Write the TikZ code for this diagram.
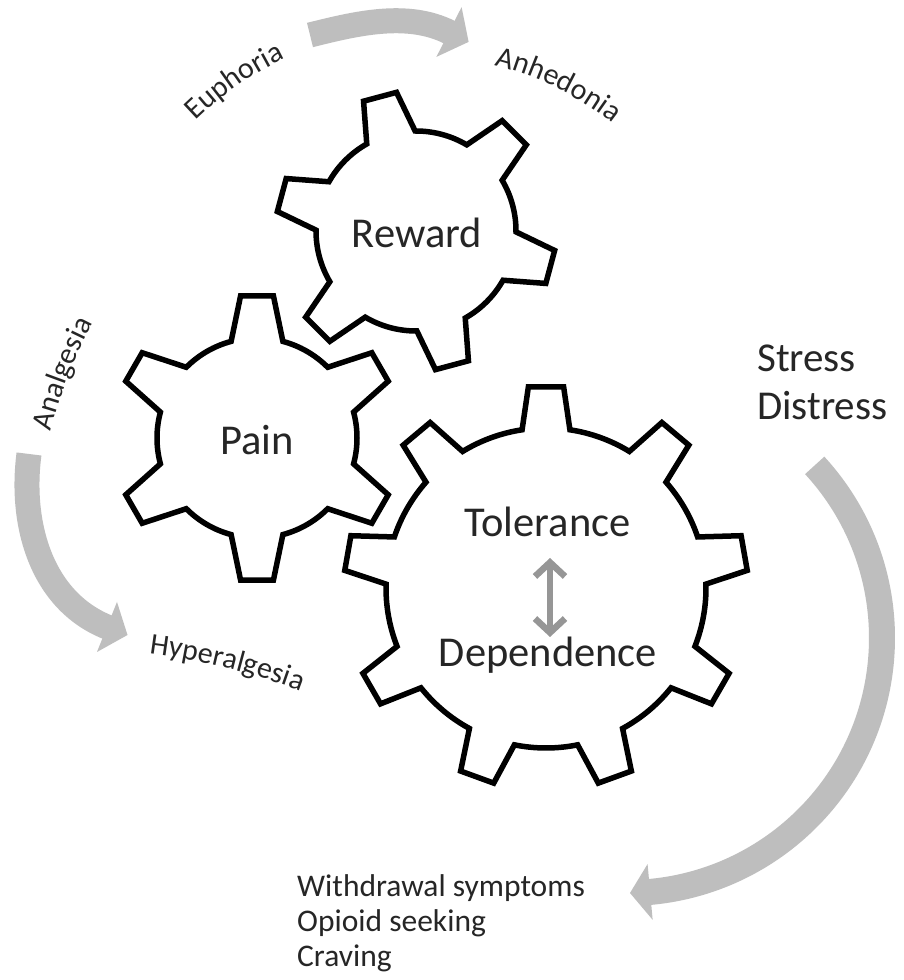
\documentclass[tikz,border=0pt]{standalone}
\usepackage{fontspec}
\setmainfont{Carlito}
\usetikzlibrary{arrows.meta,decorations.text,calc}
\definecolor{arrowgray}{RGB}{190,190,190}
\definecolor{dblgray}{RGB}{150,150,150}
\definecolor{txt}{RGB}{38,38,38}
\newcommand{\gearfont}{\fontsize{42.5}{50}\selectfont}
\newcommand{\sidefont}{\fontsize{41}{48}\selectfont}
\newcommand{\listfont}{\fontsize{31.5}{36}\selectfont}
\newcommand{\lblfont}{\fontsize{30}{36}\selectfont}
% #1 cx, #2 cy, #3 teeth, #4 first tooth angle, #5 root radius, #6 tip radius,
% #7 root half-angle, #8 tip half-angle
\newcommand{\drawgear}[8]{%
  \pgfmathsetmacro\gstep{360/#3}%
  \pgfmathsetmacro\gstart{#4-#7}%
  \draw[gearline] ([shift={(#1,#2)}]\gstart:#5pt)
    \foreach \k [evaluate=\k as \ga using #4+\k*\gstep-\gstep,
                 evaluate=\k as \gb using #4+\k*\gstep-#7] in {1,...,#3}{
      -- ([shift={(#1,#2)}]\ga-#8:#6pt)
      -- ([shift={(#1,#2)}]\ga+#8:#6pt)
      -- ([shift={(#1,#2)}]\ga+#7:#5pt)
      arc[start angle=\ga+#7, end angle=\gb, radius=#5pt]
    } -- cycle;%
}
\begin{document}
\begin{tikzpicture}[x=1pt,y=1pt,
  gearline/.style={draw=black, line width=5.5pt, fill=white, line join=miter},
  geartext/.style={font=\gearfont, text=txt, inner sep=0pt, anchor=base},
  sidetext/.style={font=\sidefont, text=txt, inner sep=0pt, anchor=base west},
  listtext/.style={font=\listfont, text=txt, inner sep=0pt, anchor=base west},
  band/.style={draw=arrowgray, line width=25pt, line cap=butt},
  bandhead/.style={fill=arrowgray},
  dblarrow/.style={draw=dblgray, line width=6.5pt, line join=miter,
    {Straight Barb[length=14pt,width=30pt]}-{Straight Barb[length=14pt,width=30pt]}},
  curvelabel/.style={decorate, decoration={text along path, text align=center, text color=txt}}
]
\useasboundingbox (0,0) rectangle (904,980);
\fill[white] (0,0) rectangle (904,980);

% gears
\drawgear{546}{392}{9}{90}{160}{202}{8.6}{5.0}
\drawgear{257}{542}{6}{90}{100}{143}{15}{6.6}
\drawgear{416}{749}{6}{45}{100}{140}{14.5}{7.0}

% gear texts
\node[geartext] (reward) at (417,732) {Reward};
\node[geartext] (pain) at (257,525) {Pain};
\node[geartext] (tol) at (547.5,443) {Tolerance};
\node[geartext] (dep) at (548,313) {Dependence};
\coordinate (dtop) at (550,422);
\coordinate (dbot) at (550,343);
\draw[dblarrow] (dtop) -- (dbot);

% side texts
\node[sidetext] (stress) at (757,608) {Stress};
\node[sidetext] (distress) at (757,560) {Distress};
\node[listtext] (withdrawal) at (297,83) {Withdrawal symptoms};
\node[listtext] (seeking) at (297,48) {Opioid seeking};
\node[listtext] (craving) at (297,13) {Craving};

% curved labels
\path[curvelabel, decoration={text={|\lblfont|Euphoria}}]
  ([shift={(432.4,616.3)}]150:339pt) arc[start angle=150, end angle=100, radius=339pt];
\path[curvelabel, decoration={text={|\lblfont|Anhedonia}}]
  ([shift={(415,605)}]88.7:320pt) arc[start angle=88.7, end angle=38.7, radius=320pt];
\path[curvelabel, decoration={text={|\lblfont|Hyperalgesia}}]
  ([shift={(64.6,-335)}]88:667pt) arc[start angle=88, end angle=64, radius=667pt];
\path[curvelabel, decoration={text={|\lblfont|Analgesia}}]
  ([shift={(535.5,425)}]173:500pt) arc[start angle=173, end angle=145, radius=500pt];

% top arrow
\coordinate (ta1) at (310,945);
\coordinate (ta2) at (449,948);
\draw[band] (ta1) .. controls (355.6,956.3) and (407.2,969.2) .. ($(ta2)+(0.9,-0.45)$);
\fill[bandhead] (461.6,972.9) -- (468.6,938.1) -- (436.4,923.1) -- cycle;

% left arrow
\coordinate (la1) at (29,526);
\coordinate (la2) at (107,353);
\draw[band] (la1) .. controls (19.8,456) and (41.2,379.2) .. ($(la2)+(0.93,-0.37)$);
\fill[bandhead] (117,378) -- (127.5,345) -- (97,328) -- cycle;

% right arrow
\coordinate (rc) at (627,342);
\draw[band, line width=26pt] ([shift={(rc)}]42.6:255pt) arc[start angle=42.6, end angle=-85.2, radius=255pt];
\fill[bandhead] ([shift={(rc)}]-84.8:227pt) -- ([shift={(rc)}]-84.8:283pt) -- (630,87) -- cycle;
\end{tikzpicture}
\end{document}
